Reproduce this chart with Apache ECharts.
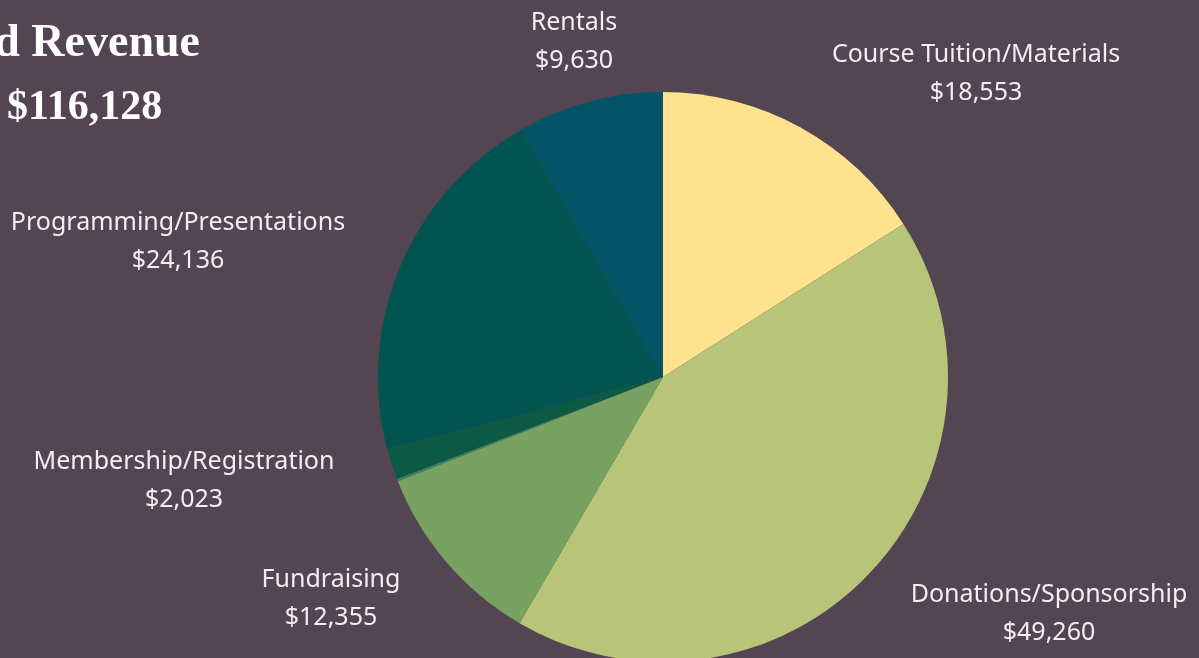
<!DOCTYPE html>
<html>
<head>
<meta charset="utf-8">
<script src="https://cdn.jsdelivr.net/npm/echarts@6/dist/echarts.min.js"></script>
<style>
  html, body { margin: 0; padding: 0; background: #544552; }
  #chart { width: 1199px; height: 658px; }
</style>
</head>
<body>
<div id="chart"></div>
<script>
// revenue categories, clockwise from 12 o'clock
const categories = [
  "Course Tuition/Materials",
  "Donations/Sponsorship",
  "Fundraising",
  "Other",
  "Membership/Registration",
  "Programming/Presentations",
  "Rentals"
];
const amounts = [18553, 49260, 12355, 171, 2023, 24136, 9630];
const totalLabel = "$116,128";
const sliceColors = ["#fee28d", "#b8c478", "#78a261", "#3b8560", "#0c5a43", "#025450", "#025466"];
const hideLabel = [false, false, false, true, false, false, false];

// label block centres (px), same order as categories
const labelSpots = [
  [976, 74], [1049, 614], [331, 599], [0, 0], [184, 481], [178, 242], [574, 42]
];

const chart = echarts.init(document.getElementById("chart"));

const fmt = (v) => "$" + v.toLocaleString("en-US");

chart.setOption({
  backgroundColor: "#544552",
  animation: false,
  graphic: [
    {
      type: "text",
      right: 999,
      top: 21,
      style: {
        text: "Earned Revenue",
        fill: "#ffffff",
        font: "bold 46px 'Liberation Serif', serif",
        textAlign: "right"
      }
    },
    {
      type: "text",
      left: 7,
      top: 87,
      style: {
        text: totalLabel,
        fill: "#ffffff",
        font: "bold 42px 'Liberation Serif', serif"
      }
    }
  ],
  series: [
    {
      type: "pie",
      center: [663, 377],
      radius: 285,
      startAngle: 90,
      clockwise: true,
      silent: true,
      itemStyle: { borderWidth: 0 },
      labelLine: { show: false },
      label: {
        show: true,
        position: "outside",
        overflow: "none",
        color: "#f2eef1",
        fontFamily: "Noto Sans",
        fontSize: 25,
        lineHeight: 38,
        align: "center",
        formatter: (p) => p.name + "\n" + fmt(p.value)
      },
      labelLayout: (params) => {
        const spot = labelSpots[params.dataIndex];
        return { x: spot[0], y: spot[1], align: "center", verticalAlign: "middle" };
      },
      data: categories.map((name, i) => ({
        name: name,
        value: amounts[i],
        itemStyle: { color: sliceColors[i] },
        label: { show: !hideLabel[i] }
      }))
    }
  ]
});
</script>
</body>
</html>
